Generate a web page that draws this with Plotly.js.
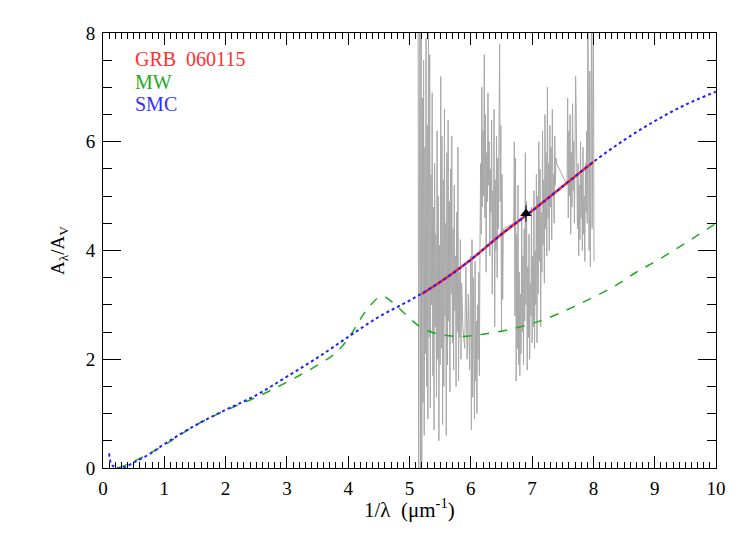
<!DOCTYPE html>
<html>
<head>
<meta charset="utf-8">
<script src="https://cdn.plot.ly/plotly-3.0.1.min.js"></script>
<style>
  body { margin: 0; background: #fff; }
  #plot { width: 747px; height: 534px; }
</style>
</head>
<body>
<div id="plot"></div>
<script>
// SMC extinction curve (blue dotted)
var smcX = [0.1, 0.15, 0.3, 0.5, 0.75, 1.0, 1.5, 2.0, 2.5, 3.0, 3.5, 4.0, 4.5, 5.0, 5.5, 6.0, 6.5, 7.0, 7.5, 8.0, 8.5, 9.0, 9.5, 10.0];
var smcY = [0.27, 0.05, 0.0, 0.1, 0.25, 0.44, 0.78, 1.07, 1.34, 1.68, 2.03, 2.41, 2.78, 3.08, 3.42, 3.83, 4.3, 4.73, 5.18, 5.63, 6.03, 6.38, 6.68, 6.92];

// MW extinction curve (green dashed)
var mwX = [0.25, 0.5, 1.0, 1.5, 2.0, 2.5, 3.0, 3.5, 3.8, 4.0, 4.2, 4.35, 4.55, 4.75, 4.95, 5.17, 5.44, 5.82, 6.2, 6.75, 7.24, 7.78, 8.32, 8.7, 9.06, 9.52, 10.0];
var mwY = [0.0, 0.12, 0.42, 0.78, 1.06, 1.3, 1.58, 1.89, 2.12, 2.38, 2.74, 2.98, 3.16, 3.02, 2.81, 2.6, 2.47, 2.42, 2.46, 2.58, 2.75, 3.02, 3.33, 3.6, 3.83, 4.15, 4.5];

// GRB 060115 fit (red)
var fitX = [5.2, 5.5, 6.0, 6.5, 7.0, 7.5, 8.0];
var fitY = [3.2, 3.42, 3.83, 4.3, 4.73, 5.18, 5.63];

// photometric point
var ptX = [6.9];
var ptY = [4.68];
var ptErr = [0.15];

// spectrum (gray)
var specX = [5.14, 5.15, 5.17, 5.18, 5.19, 5.20,
  5.21, 5.22, 5.23, 5.24, 5.25, 5.26, 5.27, 5.28, 5.29, 5.30, 5.31, 5.32, 5.33, 5.34, 5.35, 5.36, 5.37, 5.38, 5.39, 5.40,
  5.41, 5.42, 5.43, 5.44, 5.45, 5.46, 5.47, 5.48, 5.49, 5.50, 5.51, 5.52, 5.53, 5.54, 5.55, 5.56, 5.57, 5.58, 5.59, 5.60,
  5.61, 5.62, 5.63, 5.64, 5.65, 5.66, 5.67, 5.68, 5.69, 5.70, 5.71, 5.72, 5.73, 5.74, 5.75, 5.76, 5.77, 5.78, 5.79, 5.80,
  5.81, 5.82, 5.83, 5.84, 5.85, 5.87, 5.90, 5.92, 5.94, 5.96, 5.98, 6.00,
  6.01, 6.02, 6.03, 6.04, 6.05, 6.06, 6.07, 6.08, 6.09, 6.10, 6.11, 6.12, 6.13, 6.14, 6.15,
  6.16, 6.17, 6.18, 6.19, 6.20, 6.21, 6.22, 6.23, 6.24, 6.25, 6.26, 6.27, 6.28, 6.29, 6.30, 6.31, 6.32, 6.33, 6.34, 6.35,
  6.36, 6.37, 6.38, 6.39, 6.40, 6.41, 6.42, 6.43, 6.44, 6.45, 6.46, 6.47, 6.48, 6.49, 6.50, 6.51, 6.52, 6.53,
  6.70, 6.71, 6.72, 6.73, 6.74, 6.75, 6.76, 6.77, 6.78, 6.79, 6.80,
  6.81, 6.82, 6.83, 6.84, 6.85, 6.86, 6.87, 6.88, 6.89, 6.90, 6.91, 6.92, 6.93, 6.94, 6.95, 6.96, 6.97, 6.98, 6.99, 7.00,
  7.01, 7.02, 7.03, 7.04, 7.05, 7.06, 7.07,
  7.08, 7.09, 7.10, 7.11, 7.12, 7.13, 7.14, 7.15, 7.16, 7.17, 7.18, 7.19, 7.20, 7.21, 7.22, 7.23, 7.24, 7.25, 7.26, 7.27,
  7.28, 7.29, 7.30, 7.31, 7.32, 7.33, 7.34, 7.35, 7.36, 7.37, 7.38, 7.39, 7.40,
  7.57, 7.58, 7.59, 7.60, 7.61, 7.62, 7.63, 7.64, 7.65, 7.66, 7.67, 7.68, 7.69, 7.70, 7.71, 7.72, 7.73, 7.74,
  7.75, 7.76, 7.77, 7.78, 7.79, 7.80, 7.81, 7.82, 7.83, 7.84, 7.85, 7.86, 7.87, 7.88, 7.89, 7.90,
  7.91, 7.92, 7.93, 7.94, 7.95, 7.96, 7.97, 7.98, 7.99, 8.00, 8.01];
var specY = [8.5, -0.2, 8.5, -0.2, 8.5, 0.1,
  6.8, 1.2, 7.5, 0.6, 5.9, 2.1, 7.9, 1.5, 6.3, 0.9, 8.3, 2.4, 7.6, 1.1, 5.4, 3.0, 6.9, 1.7, 4.8, 0.7,
  5.6, 2.6, 4.3, 1.3, 6.2, 2.0, 5.0, 0.5, 4.1, 1.9, 7.2, 2.2, 6.1, 0.8, 5.3, 1.5, 6.6, 2.8, 4.5, 0.6,
  5.8, 1.9, 6.4, 2.7, 4.9, 1.4, 5.5, 3.2, 6.1, 2.3, 4.4, 1.8, 5.2, 2.9, 3.9, 1.5, 4.7, 2.5, 5.9, 1.6,
  3.6, 2.4, 4.2, 2.0, 3.4, 2.6, 2.2, 3.7, 2.0, 3.2, 1.8, 3.9,
  0.7, 4.2, 1.3, 3.5, 2.1, 0.9, 3.8, 1.6, 2.7, 1.0, 3.0, 2.0, 3.6, 1.7, 4.1,
  5.6, 4.3, 7.0, 4.8, 6.2, 5.0, 7.6, 4.6, 6.5, 3.6, 5.8, 4.9, 6.9, 5.2, 6.0, 3.9, 5.5, 4.7, 6.4, 3.2,
  5.1, 4.2, 6.6, 2.6, 5.3, 4.0, 6.1, 3.5, 5.7, 4.4, 6.8, 7.8, 4.9, 6.3, 2.5, 5.4, 3.1, 4.4,
  4.5, 6.0, 2.8, 5.7, 1.6, 4.3, 2.2, 5.2, 1.9, 3.6, 1.7,
  3.2, 2.1, 4.6, 2.5, 3.9, 1.9, 4.4, 2.7, 5.8, 3.0, 4.9, 1.8, 3.7, 2.4, 4.3, 2.0, 3.4, 2.8, 4.8, 2.3,
  3.9, 2.6, 5.1, 2.2, 4.0, 3.0, 5.4,
  2.3, 5.0, 3.2, 6.0, 3.8, 5.5, 2.6, 4.7, 3.6, 6.2, 4.1, 5.3, 3.4, 6.5, 4.4, 5.8, 3.9, 7.0, 4.6, 5.6,
  4.0, 6.3, 4.8, 5.9, 4.2, 6.6, 5.0, 5.4, 4.5, 6.1, 5.2, 5.7, 5.6,
  5.2, 6.8, 4.6, 6.2, 5.0, 6.5, 4.3, 5.8, 4.8, 6.7, 5.1, 6.0, 4.5, 5.5, 7.2, 6.5, 5.3, 4.4,
  5.6, 3.9, 5.2, 4.2, 6.0, 4.6, 5.4, 4.0, 5.9, 4.3, 5.0, 3.8, 5.6, 4.7, 6.2, 4.5,
  8.6, 5.3, 4.0, 7.3, 3.7, 5.5, 8.6, 4.4, 6.3, 8.6, 3.8];

var serif = "Liberation Serif, Times New Roman, serif";

var traces = [
  {x: specX, y: specY, mode: "lines", line: {color: "rgb(168,168,168)", width: 1}, hoverinfo: "skip"},
  {x: mwX, y: mwY, mode: "lines", line: {color: "#1faa1f", width: 1.5, dash: "dash", shape: "spline"}},
  {x: fitX, y: fitY, mode: "lines", line: {color: "#ff2020", width: 2.5, shape: "spline"}},
  {x: smcX, y: smcY, mode: "lines", line: {color: "#2020ff", width: 2, dash: "dot", shape: "spline"}},
  {x: ptX, y: ptY, mode: "markers", marker: {symbol: "triangle-up", size: 10, color: "black"},
   error_y: {type: "data", array: ptErr, color: "black", thickness: 1, width: 0}}
];

var layout = {
  width: 747, height: 534,
  margin: {l: 103, r: 31, t: 33, b: 66},
  paper_bgcolor: "white", plot_bgcolor: "white",
  showlegend: false,
  font: {family: serif, size: 18, color: "black"},
  xaxis: {
    range: [0, 10], dtick: 1, showgrid: false, zeroline: false,
    showline: true, linecolor: "black", linewidth: 1, mirror: "allticks",
    ticks: "inside", ticklen: 12, tickwidth: 1, tickcolor: "black",
    ticklabelstandoff: 3,
    minor: {dtick: 0.1, ticks: "inside", ticklen: 6, tickwidth: 1, tickcolor: "black"},
    tickfont: {family: serif, size: 19}
  },
  yaxis: {
    range: [0, 8], dtick: 2, showgrid: false, zeroline: false,
    showline: true, linecolor: "black", linewidth: 1, mirror: "allticks",
    ticks: "inside", ticklen: 18, tickwidth: 1, tickcolor: "black",
    ticklabelstandoff: 3,
    minor: {dtick: 0.5, ticks: "inside", ticklen: 9, tickwidth: 1, tickcolor: "black"},
    tickfont: {family: serif, size: 19},
    title: {text: "A<sub>λ</sub>/A<sub>V</sub>", font: {family: serif, size: 19}, standoff: 16}
  },
  annotations: [
    {xref: "paper", yref: "paper", x: 0.5, y: -0.092, xanchor: "center", yanchor: "middle", showarrow: false,
     text: "1/λ  (μm<sup>-1</sup>)", font: {family: serif, size: 21, color: "black"}},
    {xref: "paper", yref: "paper", x: 0.049, y: 0.940, xanchor: "left", yanchor: "middle", showarrow: false,
     text: "GRB  060115", font: {family: serif, size: 20, color: "#ff3030"}},
    {xref: "paper", yref: "paper", x: 0.049, y: 0.887, xanchor: "left", yanchor: "middle", showarrow: false,
     text: "MW", font: {family: serif, size: 20, color: "#22aa22"}},
    {xref: "paper", yref: "paper", x: 0.049, y: 0.837, xanchor: "left", yanchor: "middle", showarrow: false,
     text: "SMC", font: {family: serif, size: 20, color: "#3030ff"}}
  ]
};

Plotly.newPlot("plot", traces, layout, {staticPlot: true});
</script>
</body>
</html>
